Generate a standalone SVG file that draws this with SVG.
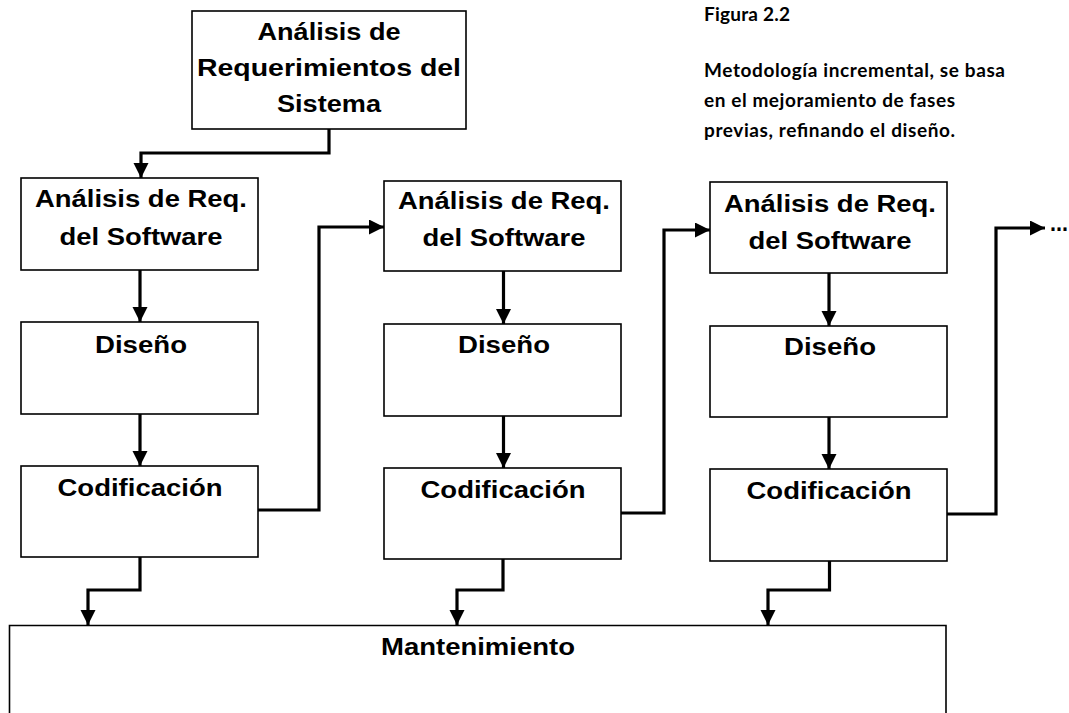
<svg xmlns="http://www.w3.org/2000/svg" width="1069" height="713" viewBox="0 0 1069 713">
<style>
.box{fill:#fff;stroke:#000;stroke-width:1.6}
.t{font-family:"Liberation Sans",Arial,sans-serif;font-weight:bold;font-size:23.5px;fill:#000;text-anchor:middle}
.c{fill:none;stroke:#000;stroke-width:3.2;stroke-linejoin:miter}
.cap{font-family:Lato,"Open Sans",sans-serif;font-weight:bold;font-size:19px;fill:#000}
</style>
<defs>
<marker id="ah" markerUnits="userSpaceOnUse" markerWidth="16" markerHeight="16" refX="15" refY="7.5" orient="auto">
<path d="M0,0 L15,7.5 L0,15 z" fill="#000"/>
</marker>
</defs>
<rect width="1069" height="713" fill="#fff"/>

<g id="caption">
<text class="cap" x="704" y="20.5" textLength="86" lengthAdjust="spacing">Figura 2.2</text>
<text class="cap" x="704" y="77" textLength="301" lengthAdjust="spacing">Metodología incremental, se basa</text>
<text class="cap" x="704" y="107" textLength="251" lengthAdjust="spacing">en el mejoramiento de fases</text>
<text class="cap" x="704" y="137" textLength="251" lengthAdjust="spacing">previas, refinando el diseño.</text>
</g>

<g id="sistema">
<rect class="box" x="192" y="11" width="274" height="118"/>
<text class="t" x="329" y="40" textLength="143" lengthAdjust="spacingAndGlyphs">Análisis de</text>
<text class="t" x="329" y="76" textLength="264" lengthAdjust="spacingAndGlyphs">Requerimientos del</text>
<text class="t" x="329" y="112" textLength="104" lengthAdjust="spacingAndGlyphs">Sistema</text>
</g>

<g id="req1">
<rect class="box" x="21" y="178" width="237" height="92"/>
<text class="t" x="141" y="207" textLength="212" lengthAdjust="spacingAndGlyphs">Análisis de Req.</text>
<text class="t" x="141" y="245" textLength="163" lengthAdjust="spacingAndGlyphs">del Software</text>
</g>
<g id="dis1">
<rect class="box" x="21" y="322" width="237" height="92"/>
<text class="t" x="141" y="353" textLength="92" lengthAdjust="spacingAndGlyphs">Diseño</text>
</g>
<g id="cod1">
<rect class="box" x="21" y="466" width="237" height="91"/>
<text class="t" x="140" y="496" textLength="165" lengthAdjust="spacingAndGlyphs">Codificación</text>
</g>

<g id="req2">
<rect class="box" x="384" y="181" width="237" height="90"/>
<text class="t" x="504" y="209" textLength="212" lengthAdjust="spacingAndGlyphs">Análisis de Req.</text>
<text class="t" x="504" y="246" textLength="163" lengthAdjust="spacingAndGlyphs">del Software</text>
</g>
<g id="dis2">
<rect class="box" x="384" y="324" width="237" height="92"/>
<text class="t" x="504" y="353" textLength="92" lengthAdjust="spacingAndGlyphs">Diseño</text>
</g>
<g id="cod2">
<rect class="box" x="384" y="468" width="237" height="91"/>
<text class="t" x="503" y="498" textLength="165" lengthAdjust="spacingAndGlyphs">Codificación</text>
</g>

<g id="req3">
<rect class="box" x="710" y="182" width="237" height="91"/>
<text class="t" x="830" y="211.5" textLength="212" lengthAdjust="spacingAndGlyphs">Análisis de Req.</text>
<text class="t" x="830" y="249" textLength="163" lengthAdjust="spacingAndGlyphs">del Software</text>
</g>
<g id="dis3">
<rect class="box" x="710" y="326" width="237" height="91"/>
<text class="t" x="830" y="355" textLength="92" lengthAdjust="spacingAndGlyphs">Diseño</text>
</g>
<g id="cod3">
<rect class="box" x="710" y="469" width="237" height="92"/>
<text class="t" x="829" y="499" textLength="165" lengthAdjust="spacingAndGlyphs">Codificación</text>
</g>

<g id="mantenimiento">
<path class="box" d="M9.5,720 V625.5 H946 V720"/>
<text class="t" x="478" y="655" textLength="194" lengthAdjust="spacingAndGlyphs">Mantenimiento</text>
</g>

<g id="ellipsis">
<text class="t" x="1050" y="230.5" style="text-anchor:start" textLength="18" lengthAdjust="spacingAndGlyphs">...</text>
</g>

<g id="connectors">
<path class="c" d="M329,129 V153 H141 V178" marker-end="url(#ah)"/>
<path class="c" d="M140,270 V322" marker-end="url(#ah)"/>
<path class="c" d="M140,414 V466" marker-end="url(#ah)"/>
<path class="c" d="M140,557 V590 H88 V625" marker-end="url(#ah)"/>
<path class="c" d="M258,510 H319 V227 H384" marker-end="url(#ah)"/>

<path class="c" d="M503.5,271 V324" marker-end="url(#ah)"/>
<path class="c" d="M503.5,416 V468" marker-end="url(#ah)"/>
<path class="c" d="M503,559 V590 H457 V625" marker-end="url(#ah)"/>
<path class="c" d="M621,513 H664 V230 H710" marker-end="url(#ah)"/>

<path class="c" d="M829,273 V326" marker-end="url(#ah)"/>
<path class="c" d="M829,417 V469" marker-end="url(#ah)"/>
<path class="c" d="M829.5,561 V590 H768 V625" marker-end="url(#ah)"/>
<path class="c" d="M947,514 H996 V228 H1045" marker-end="url(#ah)"/>
</g>
</svg>
